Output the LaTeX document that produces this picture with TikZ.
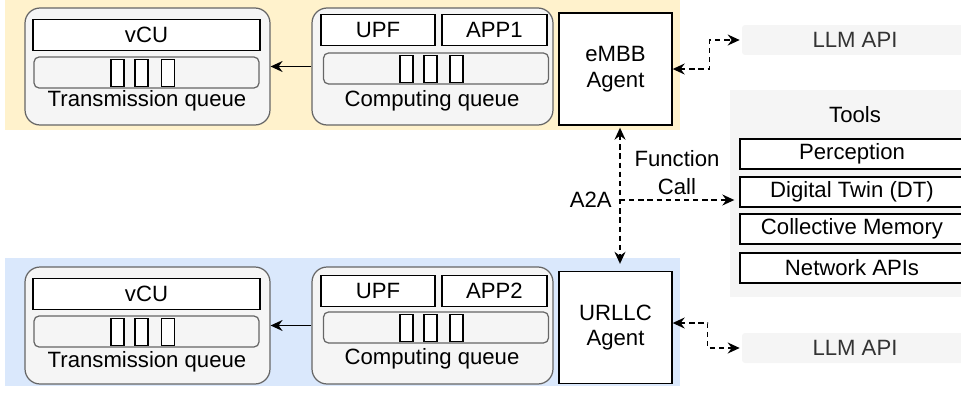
\documentclass[tikz,border=0pt]{standalone}
\usepackage{fontspec}
\setmainfont{Liberation Sans}
\usetikzlibrary{arrows.meta,positioning}
\definecolor{embbfill}{HTML}{FFF2CC}
\definecolor{urllcfill}{HTML}{DAE8FC}
\definecolor{boxgray}{HTML}{F5F5F5}
\definecolor{edgegray}{HTML}{666666}
\definecolor{textgray}{HTML}{333333}
\tikzset{
  ctip/.tip={Stealth[length=0.24cm,width=0.22cm,inset=0.08cm]},
  queuebox/.style={draw=edgegray, fill=boxgray, rounded corners=0.3cm, line width=0.7pt,
    minimum height=2.34cm, inner sep=0pt},
  funcbox/.style={draw, fill=white, line width=0.8pt, minimum height=0.62cm, inner sep=0pt},
  bufbar/.style={draw=edgegray, fill=boxgray, rounded corners=0.1cm, line width=0.7pt,
    minimum width=4.5cm, minimum height=0.62cm, inner sep=0pt},
  pkt/.style={draw, fill=white, line width=0.8pt, minimum width=0.26cm,
    minimum height=0.54cm, inner sep=0pt},
  agentbox/.style={draw, fill=white, line width=0.8pt, minimum width=2.26cm,
    minimum height=2.24cm, align=center},
  toolbox/.style={draw, fill=white, line width=0.8pt, minimum width=4.48cm,
    minimum height=0.6cm, inner sep=0pt},
  llmbox/.style={fill=boxgray, rounded corners=0.06cm, text=textgray,
    minimum width=4.52cm, minimum height=0.6cm, inner sep=0pt},
  flow/.style={-ctip, line width=0.85pt},
  dashlink/.style={line width=0.85pt, dash pattern=on 3pt off 2.2pt}
}
\begin{document}
\begin{tikzpicture}[x=0.02cm, y=-0.02cm, font=\fontsize{12.6}{14.5}\selectfont]
  \useasboundingbox (0,0) rectangle (961,396);
  % slice backgrounds
  \fill[embbfill] (5,0) rectangle (680,130);
  \fill[urllcfill] (5,258) rectangle (680,386);

  % eMBB slice
  \node[queuebox, minimum width=4.9cm] (etx) at (147.5,66.5) {};
  \node[funcbox, minimum width=4.54cm] (evcu) at (146.5,35) {vCU};
  \node[bufbar] (etxq) at (146.5,72.5) {};
  \node[pkt] (etxp1) at (117.5,73) {};
  \node[pkt] (etxp2) at (141.5,73) {};
  \node[pkt] (etxp3) at (168,73) {};
  \node (etxl) at (147,101) {Transmission queue};
  \node[queuebox, minimum width=4.82cm] (ecomp) at (432.5,66.5) {};
  \node[funcbox, minimum width=2.28cm] (eupf) at (378,30) {UPF};
  \node[funcbox, minimum width=2.1cm] (eapp) at (494.5,30) {APP1};
  \node[bufbar] (ecompq) at (436,68.5) {};
  \node[pkt] (ecp1) at (406.5,69) {};
  \node[pkt] (ecp2) at (430.5,69) {};
  \node[pkt] (ecp3) at (456.5,69) {};
  \node (ecompl) at (432,101) {Computing queue};
  \node[agentbox] (eagent) at (615.5,69) {eMBB\\Agent};

  % URLLC slice
  \node[queuebox, minimum width=4.9cm] (utx) at (147.5,325.5) {};
  \node[funcbox, minimum width=4.54cm] (uvcu) at (146.5,294) {vCU};
  \node[bufbar] (utxq) at (146.5,331.5) {};
  \node[pkt] (utxp1) at (117.5,332) {};
  \node[pkt] (utxp2) at (141.5,332) {};
  \node[pkt] (utxp3) at (168,332) {};
  \node (utxl) at (147,362) {Transmission queue};
  \node[queuebox, minimum width=4.82cm] (ucomp) at (432.5,325.5) {};
  \node[funcbox, minimum width=2.28cm] (uupf) at (378,291) {UPF};
  \node[funcbox, minimum width=2.1cm] (uapp) at (494.5,291) {APP2};
  \node[bufbar] (ucompq) at (436,327.5) {};
  \node[pkt] (ucp1) at (406.5,328) {};
  \node[pkt] (ucp2) at (430.5,328) {};
  \node[pkt] (ucp3) at (456.5,328) {};
  \node (ucompl) at (432,359) {Computing queue};
  \node[agentbox] (uagent) at (615.5,327.5) {URLLC\\Agent};

  % tools
  \node[fill=boxgray, minimum width=4.9cm, minimum height=4.14cm] (toolpanel) at (852.5,193.5) {};
  \node (tools) at (855,115) {Tools};
  \node[toolbox] (perc) at (852,154) {Perception};
  \node[toolbox] (dt) at (852,192) {Digital Twin (DT)};
  \node[toolbox] (cmem) at (852,229) {Collective Memory};
  \node[toolbox] (napi) at (852,268) {Network APIs};

  % LLM endpoints
  \node[llmbox] (llm1) at (855,40) {LLM API};
  \node[llmbox] (llm2) at (855,348) {LLM API};

  % links
  \draw[flow] (ecomp.west) -- (etx.east);
  \draw[flow] (ucomp.west) -- (utx.east);
  \draw[dashlink, ctip-ctip, shorten <=0.04cm, shorten >=0.14cm]
    ([xshift=0.09cm]eagent.south) -- ([xshift=0.09cm]uagent.north);
  \coordinate (hub) at (620,200);
  \node[left=0.16cm of hub, inner sep=0pt] (a2a) {A2A};
  \node[align=center] (fcall) at (677,172.5) {Function\\[1pt]Call};
  \draw[dashlink, -ctip, shorten >=0.1cm] (hub) -- (hub -| dt.west);
  \draw[dashlink, ctip-ctip, shorten >=0.04cm] (eagent.east) -- ++(37,0) |- (llm1.west);
  \draw[dashlink, ctip-ctip, shorten >=0.04cm] ([yshift=0.09cm]uagent.east) -- ++(35,0) |- (llm2.west);
\end{tikzpicture}
\end{document}
